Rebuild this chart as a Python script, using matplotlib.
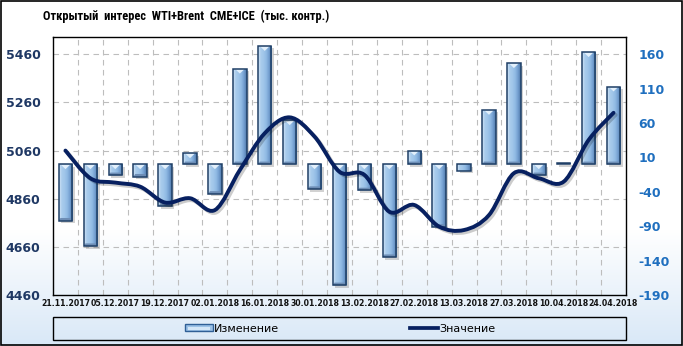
import matplotlib
matplotlib.use("Agg")
import matplotlib.pyplot as plt
import numpy as np
from matplotlib.patches import Rectangle, Polygon, PathPatch
from matplotlib.path import Path
from matplotlib.colors import LinearSegmentedColormap, to_rgb
from matplotlib.transforms import blended_transform_factory
import matplotlib.patheffects as pe

# weekly data
dates = ["21.11.2017", "28.11.2017", "05.12.2017", "12.12.2017", "19.12.2017",
         "26.12.2017", "02.01.2018", "09.01.2018", "16.01.2018", "23.01.2018",
         "30.01.2018", "06.02.2018", "13.02.2018", "20.02.2018", "27.02.2018",
         "06.03.2018", "13.03.2018", "20.03.2018", "27.03.2018", "03.04.2018",
         "10.04.2018", "17.04.2018", "24.04.2018"]
change = [-82, -119, -16, -18, -61, 16, -43, 139, 172, 64, -36, -176,
          -38, -135, 20, -91, -9, 79, 147, -16, 2, 163, 113]
level = [5060, 4945, 4927, 4910, 4844, 4862, 4813, 4979, 5132, 5198, 5118, 4972,
         4959, 4806, 4834, 4744, 4730, 4792, 4966, 4945, 4931, 5104, 5217]
left_ticks = [4460, 4660, 4860, 5060, 5260, 5460]
right_ticks = [-190, -140, -90, -40, 10, 60, 110, 160]

title = "Открытый  интерес  WTI+Brent  CME+ICE  (тыс. контр.)"
W, H = 683, 346


def fx(px):
    return px / W


def fy(py):
    return 1 - py / H


fig = plt.figure(figsize=(W / 100, H / 100), dpi=100)

# background gradient: white on top, pale blue at the bottom
bg = fig.add_axes([0, 0, 1, 1], zorder=-10)
rows = np.linspace(0, 1, 346)
t = np.clip((rows * H - 230) / (H - 230), 0, 1)
c0, c1 = np.array(to_rgb("#ffffff")), np.array(to_rgb("#d9e8f7"))
grad = c0[None, :] * (1 - t[:, None]) + c1[None, :] * t[:, None]
bg.imshow(grad[:, None, :], aspect="auto", extent=[0, 1, 0, 1])
bg.set_axis_off()

ax = fig.add_axes([fx(53), fy(295), fx(626) - fx(53), fy(37) - fy(295)])
ax.patch.set_alpha(0)
ax2 = ax.twinx()
ax2.patch.set_alpha(0)

x = np.arange(len(dates))
w = 0.54
ax.set_xlim(-0.5, len(dates) - 0.5)
ax.set_ylim(-190, 185.2)
ax2.set_ylim(4460, 5531.9)

# grid follows the left axis
gtr = blended_transform_factory(ax.transAxes, ax2.transData)
for yv in left_ticks[1:]:
    ax.plot([0, 1], [yv, yv], transform=gtr, color="#bdbdbd", lw=0.8,
            ls=(0, (5, 4)), zorder=0)
for xv in x[:-1] + 0.5:
    ax.axvline(xv, color="#bdbdbd", lw=0.8, ls=(0, (5, 4)), zorder=0)

bar_cmap = LinearSegmentedColormap.from_list(
    "bar", ["#d2e5f7", "#a9cbec", "#a0c6ea", "#90b9e3", "#729ecf", "#4f78a8"])
gpx = np.linspace(0, 1, 32)[None, :]
tri_h = 7.0
for xi, v in zip(x, change):
    lo, hi = min(0, v), max(0, v)
    ax.add_patch(Rectangle((xi - w / 2 + 0.1, lo - 3.5), w, hi - lo,
                           facecolor="#7f7f7f", alpha=0.35, lw=0, zorder=1))
    rect = Rectangle((xi - w / 2, lo), w, hi - lo, facecolor="none",
                     edgecolor="#1f3f66", lw=1.1, zorder=3)
    ax.add_patch(rect)
    im = ax.imshow(gpx, cmap=bar_cmap, aspect="auto", zorder=2,
                   extent=[xi - w / 2, xi + w / 2, lo, hi])
    im.set_clip_path(rect)
    if hi - lo > 12:
        ins = 0.07
        ax.add_patch(Polygon([[xi - w / 2 + ins, hi], [xi + w / 2 - ins, hi],
                              [xi, hi - tri_h]], closed=True,
                             facecolor="#e3f0fb", lw=0, zorder=2.5))
        ax.add_patch(Polygon([[xi - w / 2, lo], [xi + w / 2, lo],
                              [xi + w / 2 - ins, lo + 4], [xi - w / 2 + ins, lo + 4]],
                             closed=True, facecolor="#6d8db5", lw=0, zorder=2.5))

ax.set_xlim(-0.5, len(dates) - 0.5)
ax.set_ylim(-190, 185.2)
ax.set_xticks(x[::2])
ax.set_xticklabels(dates[::2], fontsize=5.6, fontweight="bold", color="#111111")
ax.tick_params(axis="x", length=0, pad=3)
for s in ax.spines.values():
    s.set_color("black")
    s.set_linewidth(1.0)

# right axis labels (changes), left axis labels (levels)
ax.yaxis.tick_right()
ax.set_yticks(right_ticks)
ax.set_yticklabels([str(v) for v in right_ticks], color="#1f6fbf",
                   fontweight="bold", fontsize=9)
ax.tick_params(axis="y", length=0, pad=9)

ax2.yaxis.tick_left()
ax2.set_yticks(left_ticks)
ax2.set_yticklabels([str(v) for v in left_ticks], color="#1f3864",
                    fontweight="bold", fontsize=9)
ax2.tick_params(axis="y", length=0, pad=9)
for s in ax2.spines.values():
    s.set_visible(False)

# line on the left axis, smoothed like a spreadsheet chart
pts = np.column_stack([x, level]).astype(float)
verts = [pts[0]]
codes = [Path.MOVETO]
n = len(pts)
for i in range(n - 1):
    p0 = pts[max(i - 1, 0)]
    p1, p2 = pts[i], pts[i + 1]
    p3 = pts[min(i + 2, n - 1)]
    verts += [p1 + (p2 - p0) / 6, p2 - (p3 - p1) / 6, p2]
    codes += [Path.CURVE4] * 3
curve = PathPatch(Path(verts, codes), facecolor="none", edgecolor="#072060",
                  lw=2.8, capstyle="round", zorder=5,
                  path_effects=[pe.SimpleLineShadow(offset=(1.5, -1.5), alpha=0.2),
                                pe.Normal()])
ax2.add_patch(curve)

# title
fig.text(fx(43), fy(16), title, fontsize=8.9, fontweight="bold",
         family=["Roboto Condensed", "Liberation Sans", "DejaVu Sans"],
         va="center", ha="left")

# legend box
fig.patches.append(Rectangle((fx(53), fy(340)), fx(626) - fx(53), fy(317) - fy(340),
                             transform=fig.transFigure, facecolor="none",
                             edgecolor="black", lw=1.0))
fig.patches.append(Rectangle((fx(185), fy(331)), fx(28), fy(0) - fy(7),
                             transform=fig.transFigure, facecolor="#9cc2e7",
                             edgecolor="#2f5f96", lw=1.0))
fig.patches.append(Rectangle((fx(188), fy(329.5)), fx(22), fy(0) - fy(3),
                             transform=fig.transFigure, facecolor="#d3e6f7", lw=0))
fig.text(fx(214), fy(328.5), "Изменение", fontsize=8, va="center", ha="left")
fig.lines.append(plt.Line2D([fx(410), fx(438)], [fy(328), fy(328)],
                            transform=fig.transFigure, color="#072060", lw=2.7))
fig.text(fx(439), fy(328.5), "Значение", fontsize=8, va="center", ha="left")

# outer frame
fig.patches.append(Rectangle((0.001, 0.002), 0.997, 0.996, transform=fig.transFigure,
                             facecolor="none", edgecolor="black", lw=1.2))

fig.savefig("out.png", dpi=100)
